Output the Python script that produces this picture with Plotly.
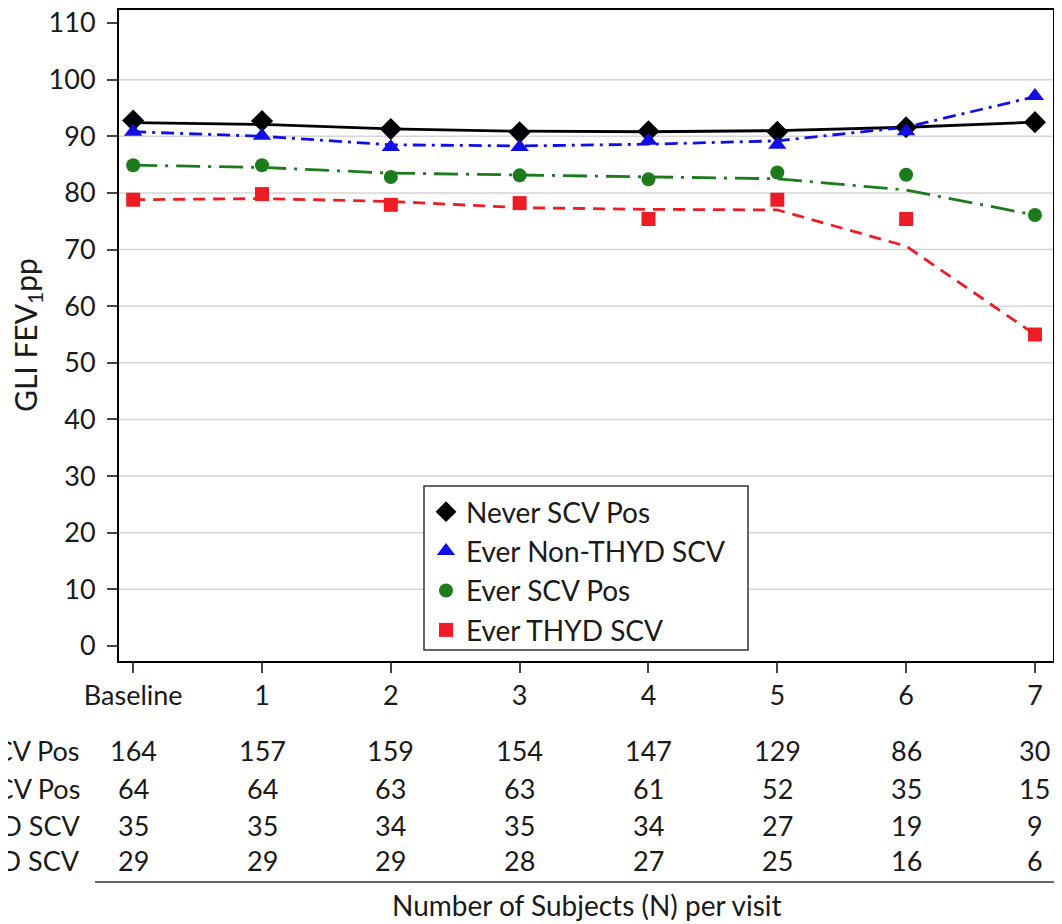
import plotly.graph_objects as go

visits = ["Baseline", "1", "2", "3", "4", "5", "6", "7"]

# observed means (markers)
never_obs = [92.8, 92.7, 91.3, 90.7, 90.9, 90.8, 91.6, 92.5]
nonthyd_obs = [90.8, 90.1, 88.1, 88.1, 89.2, 88.5, 90.9, 97.1]
scv_obs = [84.9, 84.9, 82.8, 83.1, 82.4, 83.6, 83.2, 76.1]
thyd_obs = [78.8, 79.8, 77.9, 78.2, 75.4, 78.8, 75.4, 55.0]

# model estimates (lines)
never_fit = [92.4, 92.1, 91.3, 90.9, 90.8, 91.0, 91.6, 92.5]
nonthyd_fit = [90.8, 90.0, 88.5, 88.3, 88.6, 89.2, 91.6, 97.0]
scv_fit = [84.9, 84.5, 83.5, 83.2, 82.9, 82.5, 80.5, 76.1]
thyd_fit = [78.8, 79.0, 78.5, 77.4, 77.1, 77.0, 70.6, 55.0]

row_labels = ["Never SCV Pos", "Ever SCV Pos", "Ever Non-THYD SCV", "Ever THYD SCV"]
counts = [
    [164, 157, 159, 154, 147, 129, 86, 30],
    [64, 64, 63, 63, 61, 52, 35, 15],
    [35, 35, 34, 35, 34, 27, 19, 9],
    [29, 29, 29, 28, 27, 25, 16, 6],
]

# page body has an 8px margin; figure is sized/offset to compensate
OFF = 8
W, H = 1062 - OFF, 924 - OFF
L, R, T, B = 119 - OFF, 9, 2, 263
PW, PH = W - L - R, H - T - B
FONT = "Lato"
FS = 27
TXT = "#1a1a1a"

def py(pix):
    # page pixel -> paper y
    return (H - B - (pix - OFF)) / PH

def px(pix):
    # page pixel -> paper x
    return (pix - OFF - L) / PW

xs = list(range(len(visits)))

series = [
    ("Never SCV Pos", never_obs, never_fit, "black", "diamond", 17, "solid"),
    ("Ever Non-THYD SCV", nonthyd_obs, nonthyd_fit, "#1010e6", "triangle-up", 16, "13px,6px,3px,6px"),
    ("Ever SCV Pos", scv_obs, scv_fit, "#1d7a1d", "circle", 14, "24px,8px,3px,8px"),
    ("Ever THYD SCV", thyd_obs, thyd_fit, "#ee1c25", "square", 14, "12px,8px"),
]

fig = go.Figure()
for name, obs, fit, col, sym, sz, dash in series:
    fig.add_trace(go.Scatter(x=xs, y=fit, mode="lines", showlegend=False,
                             line=dict(color=col, width=2.8, dash=dash), hoverinfo="skip"))
for name, obs, fit, col, sym, sz, dash in series:
    fig.add_trace(go.Scatter(x=xs, y=obs, mode="markers", name=name,
                             marker=dict(color=col, symbol=sym, size=sz, line=dict(width=0))))

shapes = []
for v in range(10, 101, 10):
    shapes.append(dict(type="line", xref="paper", yref="y", x0=0, x1=1, y0=v, y1=v,
                       line=dict(color="#d6d6d6", width=1.5), layer="below"))
shapes.append(dict(type="line", xref="paper", yref="paper", x0=px(95), x1=px(1062),
                   y0=py(882), y1=py(882), line=dict(color="#333333", width=1.5)))
# legend frame
shapes.append(dict(type="rect", xref="paper", yref="paper", x0=px(424), x1=px(748),
                   y0=py(650), y1=py(486), line=dict(color="#333333", width=1.5),
                   fillcolor="white", layer="above"))

annotations = []
row_y = [750, 788, 825, 860]
for r, lab in enumerate(row_labels):
    annotations.append(dict(xref="paper", yref="paper", x=px(82), y=py(row_y[r]), text=lab,
                            showarrow=False, xanchor="right", yanchor="middle",
                            font=dict(family=FONT, size=FS, color=TXT)))
    for i, c in enumerate(counts[r]):
        annotations.append(dict(xref="x", yref="paper", x=xs[i], y=py(row_y[r]), text=str(c),
                                showarrow=False, xanchor="center", yanchor="middle",
                                font=dict(family=FONT, size=FS, color=TXT)))
annotations.append(dict(xref="paper", yref="paper", x=px(587), y=py(905),
                        text="Number of Subjects (N) per visit", showarrow=False,
                        xanchor="center", yanchor="middle",
                        font=dict(family=FONT, size=28, color=TXT)))
annotations.append(dict(xref="paper", yref="paper", x=px(27), y=py(335),
                        text="GLI FEV<sub>1</sub>pp", showarrow=False, textangle=-90,
                        xanchor="center", yanchor="middle",
                        font=dict(family=FONT, size=30, color=TXT)))

fig.update_layout(
    width=W, height=H,
    margin=dict(l=L, r=R, t=T, b=B, autoexpand=False),
    paper_bgcolor="white", plot_bgcolor="white",
    font=dict(family=FONT, size=FS, color=TXT),
    shapes=shapes, annotations=annotations,
    legend=dict(x=px(426), y=py(487), xanchor="left", yanchor="top",
                borderwidth=0, bgcolor="rgba(0,0,0,0)",
                font=dict(family=FONT, size=28, color=TXT),
                tracegroupgap=0, itemwidth=30),
)
fig.update_xaxes(range=[-0.11, 7.14], tickvals=xs, ticktext=visits,
                 showgrid=False, zeroline=False, showline=True, mirror=True,
                 linecolor="black", linewidth=2, ticks="outside", ticklen=10,
                 tickwidth=2, tickcolor="#444", ticklabelstandoff=0,
                 ticklabeloverflow="allow")
fig.update_yaxes(range=[-2.65, 112.3], tickvals=list(range(0, 111, 10)),
                 showgrid=False, zeroline=False, showline=True, mirror=True,
                 linecolor="black", linewidth=2, ticks="outside", ticklen=10,
                 tickwidth=2, tickcolor="#444", ticklabelstandoff=6,
                 ticklabeloverflow="allow")

fig.write_html("out.html")
